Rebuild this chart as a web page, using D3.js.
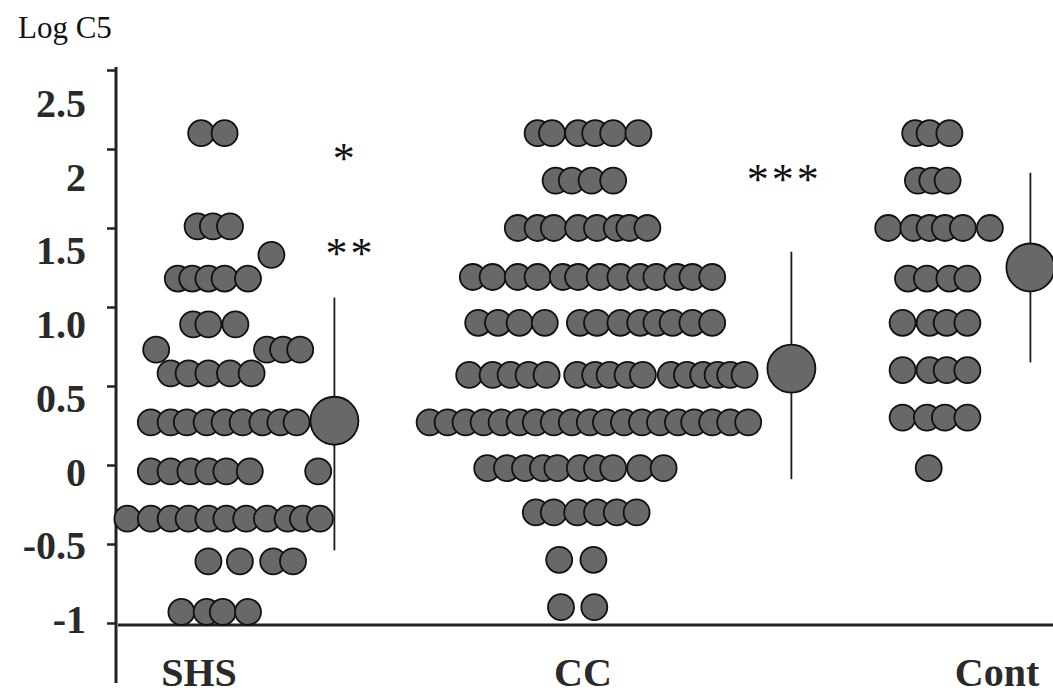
<!DOCTYPE html>
<html>
<head>
<meta charset="utf-8">
<script src="https://cdn.jsdelivr.net/npm/d3@7"></script>
<style>
body { margin: 0; background: #fff; }
svg { display: block; }
</style>
</head>
<body>
<svg width="1053" height="697"></svg>
<script>
const groups = ['SHS', 'CC', 'Cont']

// one entry per row of dots: [log C5 value, swarm slot of each dot in the row]
const shsRows = [
    [2.10, [-0.6, 0.7]],
    [1.51, [-0.8, 0.05, 1.0]],
    [1.33, [3.3]],
    [1.18, [-1.9, -1.1, -0.2, 0.7, 2.0]],
    [0.89, [-1.05, -0.2, 1.3]],
    [0.73, [-3.1, 3.05, 3.95, 4.9]],
    [0.58, [-2.3, -1.3, -0.2, 1.0, 2.2]],
    [0.27, [-3.4, -2.3, -1.4, -0.3, 0.7, 1.7, 2.8, 3.8, 4.7]],
    [-0.04, [-3.4, -2.3, -1.2, -0.2, 0.8, 2.1, 5.9]],
    [-0.34, [-4.7, -3.4, -2.3, -1.3, -0.2, 0.8, 1.9, 3.05, 4.2, 5.05, 6.0]],
    [-0.61, [-0.2, 1.55, 3.4, 4.5]],
    [-0.93, [-1.7, -0.3, 0.6, 2.0]]
]
const ccRows = [
    [2.10, [-2.8, -2.0, -0.55, 0.4, 1.4, 2.8]],
    [1.80, [-1.8, -0.9, 0.2, 1.4]],
    [1.50, [-3.9, -2.8, -1.9, -0.55, 0.5, 1.6, 2.3, 3.3]],
    [1.19, [-6.4, -5.3, -3.9, -2.8, -1.4, -0.55, 0.65, 1.8, 2.9, 3.8, 4.95, 5.8, 6.9]],
    [0.90, [-6.1, -5.0, -3.8, -2.4, -0.45, 0.5, 1.8, 2.9, 3.8, 4.7, 5.8, 6.9]],
    [0.57, [-6.6, -5.3, -4.3, -3.3, -2.3, -0.6, 0.4, 1.2, 2.2, 3.05, 4.6, 5.5, 6.4, 7.2, 7.9, 8.7]],
    [0.27, [-8.8, -7.8, -6.8, -5.8, -4.8, -3.8, -2.9, -1.9, -0.9, 0.1, 1.0, 2.0, 3.0, 4.0, 5.0, 5.9, 6.9, 7.9, 8.9]],
    [-0.02, [-5.6, -4.5, -3.5, -2.5, -1.7, -0.45, 0.5, 1.4, 2.9, 4.2]],
    [-0.30, [-2.9, -1.9, -0.6, 0.5, 1.6, 2.7]],
    [-0.60, [-1.6, 0.3]],
    [-0.90, [-1.5, 0.35]]
]
const contRows = [
    [2.10, [-1.1, -0.3, 0.8]],
    [1.80, [-0.95, -0.15, 0.7]],
    [1.50, [-2.6, -1.2, -0.3, 0.55, 1.55, 3.05]],
    [1.18, [-1.5, -0.45, 0.8, 1.8]],
    [0.90, [-1.8, -0.3, 0.65, 1.8]],
    [0.60, [-1.8, -0.3, 0.65, 1.8]],
    [0.30, [-1.8, -0.45, 0.55, 1.8]],
    [-0.02, [-0.35]]
]

// mean and spread per group
const means = [0.28, 0.61, 1.25]
const sdLow = [-0.54, -0.09, 0.65]
const sdHigh = [1.06, 1.35, 1.85]

const yTicks = [-1, -0.5, 0, 0.5, 1, 1.5, 2, 2.5]
const yTickLabels = ['-1', '-0.5', '0', '0.5', '1.0', '1.5', '2', '2.5']

const stars = [
    ['SHS', 1.98, '*'],
    ['SHS', 1.38, '**'],
    ['CC', 1.85, '***']
]

const svg = d3.select('svg')
const width = +svg.attr('width'),
    height = +svg.attr('height'),
    axisX = 116,
    dotR = 13,
    meanR = 24

svg.append('rect').attr('width', width).attr('height', height).attr('fill', '#fff')

// scales
const y = d3.scaleLinear().domain([-1, 2.5]).range([623, 70])
const labelY = d3.scaleLinear().domain([-1, 2.5]).range([633, 117])
const groupX = d3.scaleOrdinal(groups, [212, 588, 935])
const labelX = d3.scaleOrdinal(groups, [199, 583, 997])
const slot = d3.scaleLinear().domain([0, 1]).range([0, 18])
const meanSlot = d3.scaleOrdinal(groups, [6.8, 11.3, 5.3])
const starSlot = d3.scaleOrdinal(['*', '**', '***'], [7.4, 7.7, 10.9])

const serif = '"Liberation Serif", "Times New Roman", serif'

//axes
svg.append('g')
    .attr('transform', `translate(${axisX},0)`)
    .call(d3.axisLeft(y).tickValues(yTicks).tickSize(9).tickFormat(''))
    .call(g => g.select('.domain').remove())
    .selectAll('line')
    .attr('stroke', '#222')
    .attr('stroke-width', 2.5)

svg.append('line')
    .attr('x1', axisX).attr('x2', axisX)
    .attr('y1', y(2.5) - 3).attr('y2', y(-1.38))
    .attr('stroke', '#222')
    .attr('stroke-width', 3)

svg.append('line')
    .attr('x1', axisX + 2).attr('x2', width)
    .attr('y1', y(-1) + 2).attr('y2', y(-1) + 2)
    .attr('stroke', '#222')
    .attr('stroke-width', 3)

svg.selectAll('.ylab')
    .data(yTicks)
    .join('text')
    .attr('class', 'ylab')
    .attr('x', 86)
    .attr('y', d => labelY(d))
    .attr('text-anchor', 'end')
    .attr('font-family', serif)
    .attr('font-weight', 'bold')
    .attr('font-size', 40)
    .attr('fill', '#2a2a2a')
    .text((d, i) => yTickLabels[i])

svg.append('text')
    .text('Log C5')
    .attr('x', 18)
    .attr('y', 38)
    .attr('font-family', serif)
    .attr('font-size', 31)
    .attr('fill', '#111')

svg.selectAll('.xlab')
    .data(groups)
    .join('text')
    .attr('class', 'xlab')
    .attr('x', d => labelX(d))
    .attr('y', 686)
    .attr('text-anchor', 'middle')
    .attr('font-family', serif)
    .attr('font-weight', 'bold')
    .attr('font-size', 40)
    .attr('fill', '#2a2a2a')
    .text(d => d)

//dots
const dots = [shsRows, ccRows, contRows].flatMap((rows, i) =>
    rows.flatMap(([v, slots]) => slots.map(s => ({ group: groups[i], v, s }))))

svg.append('g')
    .selectAll('circle')
    .data(dots)
    .join('circle')
    .attr('cx', d => groupX(d.group) + slot(d.s))
    .attr('cy', d => y(d.v))
    .attr('r', dotR)
    .attr('fill', '#686868')
    .attr('stroke', '#111')
    .attr('stroke-width', 1.8)

//means with spread
const summary = svg.append('g')
    .selectAll('g')
    .data(groups)
    .join('g')

summary.append('line')
    .attr('x1', d => groupX(d) + slot(meanSlot(d)))
    .attr('x2', d => groupX(d) + slot(meanSlot(d)))
    .attr('y1', (d, i) => y(sdLow[i]))
    .attr('y2', (d, i) => y(sdHigh[i]))
    .attr('stroke', '#1a1a1a')
    .attr('stroke-width', 1.8)

summary.append('circle')
    .attr('cx', d => groupX(d) + slot(meanSlot(d)))
    .attr('cy', (d, i) => y(means[i]))
    .attr('r', meanR)
    .attr('fill', '#686868')
    .attr('stroke', '#111')
    .attr('stroke-width', 1.8)

//significance marks
svg.selectAll('.star')
    .data(stars)
    .join('text')
    .attr('class', 'star')
    .attr('x', d => groupX(d[0]) + slot(starSlot(d[2])))
    .attr('y', d => y(d[1]) + 21)
    .attr('text-anchor', 'middle')
    .attr('font-family', serif)
    .attr('font-size', 44)
    .attr('letter-spacing', 3)
    .attr('fill', '#111')
    .text(d => d[2])
</script>
</body>
</html>
